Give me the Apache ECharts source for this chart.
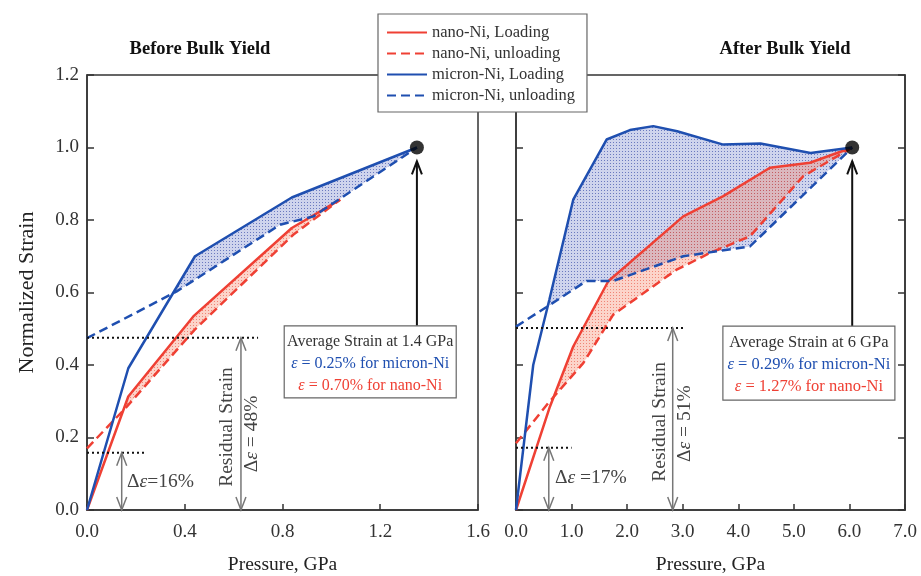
<!DOCTYPE html>
<html>
<head>
<meta charset="utf-8">
<script src="https://cdn.jsdelivr.net/npm/echarts/dist/echarts.min.js"></script>
<style>
  html, body { margin: 0; background: #fff; }
  #chart { width: 921px; height: 576px; }
</style>
</head>
<body>
<div id="chart"></div>
<script>
// curves: [pressure GPa, normalized strain]
const beforeNanoLoad = [[0, 0], [0.169, 0.313], [0.435, 0.534], [0.838, 0.778], [1.036, 0.856]];
const beforeNanoUnload = [[0, 0.17], [0.163, 0.285], [0.44, 0.497], [0.845, 0.76], [1.036, 0.856]];
const beforeMicronLoad = [[0, 0], [0.169, 0.391], [0.442, 0.70], [0.838, 0.862], [1.35, 1.0]];
const beforeMicronUnload = [[0, 0.474], [0.367, 0.603], [0.79, 0.787], [0.927, 0.81], [1.35, 1.0]];

const afterNanoLoad = [[0, 0], [0.61, 0.285], [1.03, 0.451], [1.66, 0.631], [3.01, 0.81], [3.73, 0.866], [4.57, 0.944], [5.29, 0.958], [6.05, 1.0]];
const afterNanoUnload = [[0, 0.184], [0.58, 0.295], [1.21, 0.405], [1.75, 0.539], [2.89, 0.663], [3.49, 0.709], [4.21, 0.755], [5.17, 0.921], [6.05, 1.0]];
const afterMicronLoad = [[0, 0], [0.31, 0.40], [0.6, 0.58], [1.03, 0.856], [1.63, 1.022], [2.05, 1.048], [2.47, 1.059], [2.9, 1.045], [3.73, 1.008], [4.4, 1.011], [5.3, 0.985], [6.05, 1.0]];
const afterMicronUnload = [[0, 0.506], [0.55, 0.56], [1.27, 0.632], [1.75, 0.632], [3.01, 0.70], [4.21, 0.727], [6.05, 1.0]];

const peakBefore = [[1.35, 1.0]];
const peakAfter = [[6.05, 1.0]];

// annotations
const beforeDotted = [[0, 0.70, 0.475], [0, 0.24, 0.158]];   // [x0, x1, y]
const afterDotted = [[0, 3.01, 0.502], [0, 1.0, 0.172]];
const beforeGreyArrows = [[0.142, 0, 0.158], [0.63, 0, 0.475]]; // [x, y0, y1]
const afterGreyArrows = [[0.59, 0, 0.172], [2.82, 0, 0.502]];
const beforeBlackArrow = [[1.35, 0.508, 0.962]];
const afterBlackArrow = [[6.05, 0.507, 0.962]];
const beforeNotes = [[0.164, 0.077, 'Δ{i|ε}=16%', 0, 'left'], [0.571, 0.229, 'Residual Strain', 90, 'center'], [0.674, 0.21, 'Δ{i|ε} = 48%', 90, 'center']];
const afterNotes = [[0.70, 0.088, 'Δ{i|ε} =17%', 0, 'left'], [2.59, 0.243, 'Residual Strain', 90, 'center'], [3.04, 0.238, 'Δ{i|ε} = 51%', 90, 'center']];
const beforeBoxAt = [0.807, 0.508];
const afterBoxAt = [3.723, 0.507];
const beforeBoxText = ['Average Strain at 1.4 GPa', '{i|ε} = 0.25% for micron-Ni', '{i|ε} = 0.70% for nano-Ni'];
const afterBoxText = ['Average Strain at 6 GPa', '{i|ε} = 0.29% for micron-Ni', '{i|ε} = 1.27% for nano-Ni'];

const names = ['nano-Ni, Loading', 'nano-Ni, unloading', 'micron-Ni, Loading', 'micron-Ni, unloading'];

const SERIF = '"Liberation Serif", "DejaVu Serif", serif';
const RED = '#ef4034';
const BLUE = '#1f4fb0';

const chart = echarts.init(document.getElementById('chart'));

function stipple(base, dot) {
  const c = document.createElement('canvas');
  c.width = 3; c.height = 3;
  const g = c.getContext('2d');
  g.fillStyle = base; g.fillRect(0, 0, 3, 3);
  g.fillStyle = dot; g.fillRect(1, 1, 1, 1);
  return { image: c, repeat: 'repeat' };
}

function interp(arr, x) {
  for (let i = 1; i < arr.length; i++) {
    if (x <= arr[i][0]) {
      const [x0, y0] = arr[i - 1], [x1, y1] = arr[i];
      return y0 + (y1 - y0) * (x - x0) / (x1 - x0);
    }
  }
  return arr[arr.length - 1][1];
}

// region where loading lies above unloading
function band(load, unload) {
  const xs = [...new Set(load.map(p => p[0]).concat(unload.map(p => p[0])))].sort((a, b) => a - b);
  const d = x => interp(load, x) - interp(unload, x);
  const keep = [];
  xs.forEach((x, i) => {
    if (i > 0 && d(xs[i - 1]) < 0 && d(x) >= 0) {
      const a = xs[i - 1], da = d(a), db = d(x);
      keep.push(a + (x - a) * (-da) / (db - da));
    }
    if (d(x) >= 0) keep.push(x);
  });
  const upper = keep.map(x => [x, interp(load, x)]);
  const lower = keep.slice().reverse().map(x => [x, interp(unload, x)]);
  return upper.concat(lower);
}

function axes(gi) {
  return { xAxisIndex: gi, yAxisIndex: gi };
}

function curve(name, data, color, dashed, gi) {
  return Object.assign({
    type: 'line', name, data, symbol: 'none', showSymbol: false, silent: true, z: 4,
    lineStyle: { color, width: 2.5, type: dashed ? [9, 5] : 'solid' },
    itemStyle: { color }
  }, axes(gi));
}

function fill(poly, pattern, gi, z) {
  return Object.assign({
    type: 'custom', silent: true, z, data: [[0, 0]],
    renderItem: (params, api) => ({
      type: 'polygon',
      shape: { points: poly.map(p => api.coord(p)) },
      style: { fill: pattern }
    })
  }, axes(gi));
}

function dotted(list, gi) {
  return Object.assign({
    type: 'custom', silent: true, z: 5, data: list.map(d => [d[0], d[2]]),
    renderItem: (params, api) => {
      const d = list[params.dataIndex];
      const a = api.coord([d[0], d[2]]), b = api.coord([d[1], d[2]]);
      return { type: 'line', shape: { x1: a[0], y1: a[1], x2: b[0], y2: b[1] },
        style: { stroke: '#111', lineWidth: 2, lineDash: [2, 3] } };
    }
  }, axes(gi));
}

function arrows(list, gi, color, twoHeads, width) {
  return Object.assign({
    type: 'custom', silent: true, z: 6, data: list.map(d => [d[0], d[1]]),
    renderItem: (params, api) => {
      const d = list[params.dataIndex];
      const a = api.coord([d[0], d[1]]), b = api.coord([d[0], d[2]]);
      const st = { stroke: color, lineWidth: width, fill: null };
      const kids = [
        { type: 'line', shape: { x1: a[0], y1: a[1], x2: b[0], y2: b[1] }, style: st },
        { type: 'polyline', shape: { points: [[b[0] - 5, b[1] + 13], b, [b[0] + 5, b[1] + 13]] }, style: st }
      ];
      if (twoHeads) {
        kids.push({ type: 'polyline', shape: { points: [[a[0] - 5, a[1] - 13], a, [a[0] + 5, a[1] - 13]] }, style: st });
      }
      return { type: 'group', children: kids };
    }
  }, axes(gi));
}

function notes(list, gi) {
  return Object.assign({
    type: 'custom', silent: true, z: 6, data: list.map(n => [n[0], n[1]]),
    renderItem: (params, api) => {
      const n = list[params.dataIndex];
      const p = api.coord([n[0], n[1]]);
      return {
        type: 'text', x: p[0], y: p[1], rotation: n[3] * Math.PI / 180,
        style: {
          text: n[2], fontFamily: SERIF, fontSize: 19.5, fill: '#444',
          align: n[4], verticalAlign: 'middle',
          rich: { i: { fontStyle: 'italic', fontFamily: SERIF, fontSize: 19.5, fill: '#444' } }
        }
      };
    }
  }, axes(gi));
}

function box(at, lines, w, h, size, gi) {
  return Object.assign({
    type: 'custom', silent: true, z: 7, data: [at],
    renderItem: (params, api) => {
      const p = api.coord(at);
      const cx = p[0] + w / 2;
      const colors = ['#333', BLUE, RED];
      const kids = [{ type: 'rect', shape: { x: p[0], y: p[1], width: w, height: h },
        style: { fill: '#fff', stroke: '#666', lineWidth: 1.2 } }];
      lines.forEach((t, i) => {
        kids.push({ type: 'text', x: cx, y: p[1] + 16 + i * 22,
          style: { text: t, fontFamily: SERIF, fontSize: size, fill: colors[i], align: 'center', verticalAlign: 'middle',
            rich: { i: { fontStyle: 'italic', fontFamily: SERIF, fontSize: size, fill: colors[i] } } } });
      });
      return { type: 'group', children: kids };
    }
  }, axes(gi));
}

function dot(data, gi) {
  return Object.assign({ type: 'scatter', data, symbolSize: 14, silent: true, z: 8, itemStyle: { color: '#000' } }, axes(gi));
}

const lineCol = { color: '#333', width: 1.5 };
const labelStyle = { fontFamily: SERIF, fontSize: 19, color: '#333' };

function xAxis(gi, max, interval) {
  return {
    type: 'value', gridIndex: gi, min: 0, max, interval,
    name: 'Pressure, GPa', nameLocation: 'middle', nameGap: 45,
    nameTextStyle: { fontFamily: SERIF, fontSize: 19.5, color: '#222' },
    axisLine: { show: true, lineStyle: lineCol },
    axisTick: { show: true, inside: true, length: 6, lineStyle: lineCol },
    axisLabel: Object.assign({ margin: 13, formatter: v => v.toFixed(1) }, labelStyle),
    splitLine: { show: false }
  };
}

function yAxis(gi, labels, position) {
  return {
    type: 'value', gridIndex: gi, min: 0, max: 1.2, interval: 0.2, position,
    name: labels ? 'Normalized Strain' : '', nameLocation: 'middle', nameGap: 49,
    nameTextStyle: { fontFamily: SERIF, fontSize: 22, color: '#222' },
    axisLine: { show: true, lineStyle: lineCol },
    axisTick: { show: true, inside: true, length: 7, lineStyle: lineCol },
    axisLabel: Object.assign({ show: labels, margin: 8, formatter: v => v.toFixed(1) }, labelStyle),
    splitLine: { show: false }
  };
}

const blueFill = stipple('rgba(105,120,200,0.32)', 'rgba(40,60,160,0.6)');
const redFill = stipple('rgba(245,120,90,0.32)', 'rgba(232,70,50,0.55)');

const option = {
  animation: false,
  backgroundColor: '#fff',
  title: [
    { text: 'Before Bulk Yield', left: 195, top: 35, textAlign: 'center',
      textStyle: { fontFamily: SERIF, fontWeight: 'bold', fontSize: 18.5, color: '#111' } },
    { text: 'After Bulk Yield', left: 780, top: 35, textAlign: 'center',
      textStyle: { fontFamily: SERIF, fontWeight: 'bold', fontSize: 18.5, color: '#111' } }
  ],
  legend: {
    data: names, orient: 'vertical', left: 378, top: 14,
    padding: [10, 12, 8, 8], itemGap: 4, itemWidth: 40, itemHeight: 14,
    backgroundColor: '#fff', borderColor: '#666', borderWidth: 1.2, borderRadius: 0,
    itemStyle: { opacity: 0 },
    textStyle: { fontFamily: SERIF, fontSize: 16.5, color: '#333' },
    selectedMode: false, z: 20
  },
  grid: [
    { left: 87, top: 75, width: 391, height: 435, show: true, borderColor: '#333', borderWidth: 1.5, outerBoundsMode: 'none' },
    { left: 516, top: 75, width: 389, height: 435, show: true, borderColor: '#333', borderWidth: 1.5, outerBoundsMode: 'none' }
  ],
  xAxis: [xAxis(0, 1.6, 0.4), xAxis(1, 7, 1)],
  yAxis: [yAxis(0, true, 'left'), yAxis(1, false, 'left'), yAxis(1, false, 'right')],
  series: [
    fill(band(beforeMicronLoad, beforeMicronUnload), blueFill, 0, 1),
    fill(band(beforeNanoLoad, beforeNanoUnload), redFill, 0, 2),
    fill(band(afterMicronLoad, afterMicronUnload), blueFill, 1, 1),
    fill(band(afterNanoLoad, afterNanoUnload), redFill, 1, 2),
    curve(names[0], beforeNanoLoad, RED, false, 0),
    curve(names[1], beforeNanoUnload, RED, true, 0),
    curve(names[2], beforeMicronLoad, BLUE, false, 0),
    curve(names[3], beforeMicronUnload, BLUE, true, 0),
    curve(names[0], afterNanoLoad, RED, false, 1),
    curve(names[1], afterNanoUnload, RED, true, 1),
    curve(names[2], afterMicronLoad, BLUE, false, 1),
    curve(names[3], afterMicronUnload, BLUE, true, 1),
    dotted(beforeDotted, 0),
    dotted(afterDotted, 1),
    arrows(beforeGreyArrows, 0, '#777', true, 1.5),
    arrows(afterGreyArrows, 1, '#777', true, 1.5),
    arrows(beforeBlackArrow, 0, '#111', false, 2),
    arrows(afterBlackArrow, 1, '#111', false, 2),
    notes(beforeNotes, 0),
    notes(afterNotes, 1),
    box(beforeBoxAt, beforeBoxText, 172, 72, 16, 0),
    box(afterBoxAt, afterBoxText, 172, 74, 16.5, 1),
    dot(peakBefore, 0),
    dot(peakAfter, 1)
  ]
};

chart.setOption(option);
</script>
</body>
</html>
